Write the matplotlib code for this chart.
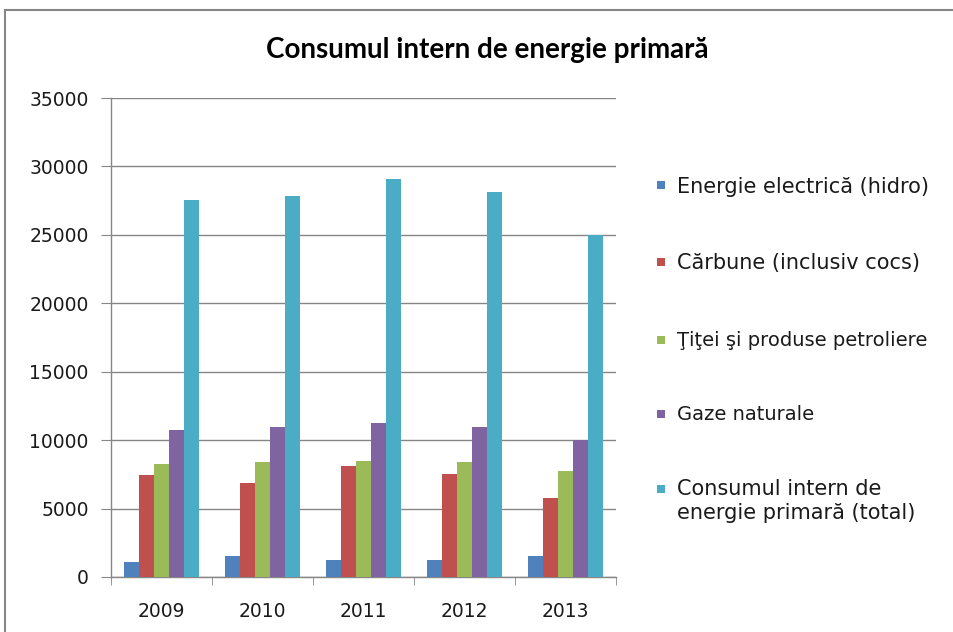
import matplotlib
matplotlib.use("Agg")
import matplotlib.pyplot as plt
import numpy as np
from matplotlib.patches import Rectangle

years = ["2009", "2010", "2011", "2012", "2013"]
series_names = [
    "Energie electrică (hidro)",
    "Cărbune (inclusiv cocs)",
    "Ţiţei şi produse petroliere",
    "Gaze naturale",
    "Consumul intern de\nenergie primară (total)",
]
hidro = [1120, 1530, 1240, 1240, 1530]
carbune = [7420, 6880, 8100, 7560, 5770]
titei = [8250, 8390, 8510, 8390, 7710]
gaze = [10730, 10990, 11260, 10990, 9980]
total = [27520, 27810, 29050, 28100, 24960]
colors = ["#4F81BD", "#C0504D", "#9BBB59", "#8064A2", "#4BACC6"]

plt.rcParams['font.family'] = ['DejaVu Sans']

W, H = 954, 632
fig = plt.figure(figsize=(W / 100, H / 100), dpi=100)
fig.patch.set_facecolor("white")
ax = fig.add_axes([111 / W, 55 / H, 505 / W, 479 / H])

data = [hidro, carbune, titei, gaze, total]
x = np.arange(len(years))
w = 0.15
for i, (vals, c, name) in enumerate(zip(data, colors, series_names)):
    ax.bar(x - 0.3 + i * w, vals, width=w, color=c, label=name, zorder=3)

ax.set_xlim(-0.5, len(years) - 0.5)
ax.set_ylim(0, 35000)
ax.set_yticks(np.arange(0, 35001, 5000))
ax.tick_params(axis='y', labelsize=13.5, length=7, color="#868686", pad=9,
               labelcolor="#1a1a1a")
ax.set_xticks(x)
ax.set_xticklabels(years, fontsize=13.5, color="#1a1a1a")
ax.tick_params(axis='x', length=0, pad=18)
ax.set_xticks(np.arange(-0.5, len(years), 1), minor=True)
ax.tick_params(axis='x', which='minor', length=6, color="#868686")
ax.grid(axis='y', color="#868686", linewidth=1, zorder=0)
for s in ["top", "right"]:
    ax.spines[s].set_visible(False)
for s in ["left", "bottom"]:
    ax.spines[s].set_color("#868686")
    ax.spines[s].set_linewidth(1)

fig.text(487 / W, 1 - 50 / H, "Consumul intern de energie primară",
         ha="center", va="center", fontsize=20, fontweight="bold",
         family=["Lato", "DejaVu Sans"])

# legend (manual layout)
text_y = [187, 263, 340, 415, 501]
text_sizes = [15, 15, 14, 14, 15]
square_y = [185, 262, 340, 414, 489]
for name, c, ty, fs, sy in zip(series_names, colors, text_y, text_sizes, square_y):
    fig.add_artist(Rectangle((657 / W, 1 - (sy + 4) / H), 8 / W, 8 / H,
                             transform=fig.transFigure, facecolor=c,
                             edgecolor="none"))
    fig.text(677 / W, 1 - ty / H, name, ha="left", va="center", fontsize=fs,
             color="#1a1a1a", linespacing=1.2)

fig.add_artist(Rectangle((5 / W, -0.5), 1.5, 1.5 - 10 / H, transform=fig.transFigure,
                         fill=False, edgecolor="#868686", linewidth=1.5))

fig.savefig("out.png", dpi=100)
